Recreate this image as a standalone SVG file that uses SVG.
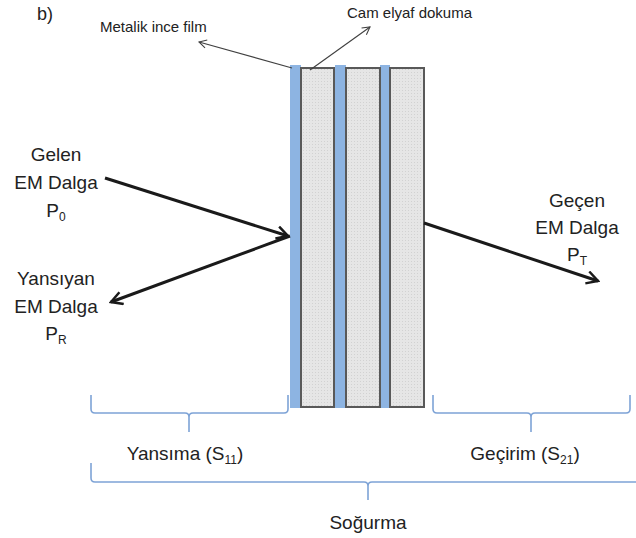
<svg xmlns="http://www.w3.org/2000/svg" width="636" height="538" viewBox="0 0 636 538">
  <style>
    text { font-family: "Liberation Sans", Arial, sans-serif; fill: #222; }
    .big { font-size: 19px; text-anchor: middle; }
    .small { font-size: 15px; }
    .sub { font-size: 12px; }
    .strip { fill: #8db4e2; }
    .box { fill: url(#dots); stroke: #595959; stroke-width: 2; }
    .brace { fill: none; stroke: #7ea3d6; stroke-width: 1.6; }
    .thick { stroke: #1a1a1a; stroke-width: 3; fill: none; marker-end: url(#openBig); }
    .thin { stroke: #404040; stroke-width: 1.1; fill: none; marker-end: url(#openSmall); }
  </style>
  <defs>
    <pattern id="dots" width="3" height="3" patternUnits="userSpaceOnUse">
      <rect width="3" height="3" fill="#e6e6e6"/>
      <rect width="1" height="1" fill="#d2d2d2"/>
    </pattern>
    <marker id="openBig" viewBox="0 0 12 12" refX="10" refY="6" markerWidth="5" markerHeight="5" markerUnits="strokeWidth" orient="auto">
      <path d="M1,1 L10,6 L1,11" fill="none" stroke="#1a1a1a" stroke-width="2"/>
    </marker>
    <marker id="openSmall" viewBox="0 0 12 12" refX="10" refY="6" markerWidth="9" markerHeight="9" markerUnits="strokeWidth" orient="auto">
      <path d="M1,1 L10,6 L1,11" fill="none" stroke="#404040" stroke-width="1.3"/>
    </marker>
  </defs>

  <text x="37" y="20" style="font-size:18px">b)</text>

  <g id="layers">
    <rect class="strip" x="290" y="65" width="11" height="343"/>
    <rect class="strip" x="335" y="65" width="11" height="343"/>
    <rect class="strip" x="380" y="65" width="10" height="343"/>
    <rect class="box" x="301" y="68" width="33" height="339"/>
    <rect class="box" x="346" y="68" width="34" height="339"/>
    <rect class="box" x="390" y="68" width="34" height="339"/>
  </g>

  <g id="connectors">
    <line class="thin" x1="292" y1="68" x2="199" y2="42"/>
    <line class="thin" x1="310" y1="70" x2="370" y2="27"/>
    <line class="thick" x1="105" y1="178" x2="288" y2="236"/>
    <line class="thick" x1="290" y1="236" x2="111" y2="302"/>
    <line class="thick" x1="424" y1="223" x2="598" y2="281"/>
  </g>

  <g id="label-metalik"><text class="small" x="100" y="32">Metalik ince film</text></g>
  <g id="label-cam"><text class="small" x="347" y="18">Cam elyaf dokuma</text></g>

  <g id="incident">
    <text class="big" x="56" y="161">Gelen</text>
    <text class="big" x="56" y="189">EM Dalga</text>
    <text class="big" x="56" y="217">P<tspan class="sub" dy="4">0</tspan></text>
  </g>
  <g id="reflected">
    <text class="big" x="56" y="285">Yansıyan</text>
    <text class="big" x="56" y="313">EM Dalga</text>
    <text class="big" x="56" y="340">P<tspan class="sub" dy="4">R</tspan></text>
  </g>
  <g id="transmitted">
    <text class="big" x="577" y="207">Geçen</text>
    <text class="big" x="577" y="234">EM Dalga</text>
    <text class="big" x="577" y="261">P<tspan class="sub" dy="4">T</tspan></text>
  </g>

  <g id="brace-yansima">
    <path class="brace" d="M91,395 L91,409 Q91,413 95,413 L185,413 Q189,413 189,417 L189,432 M189,417 Q189,413 193,413 L284,413 Q288,413 288,409 L288,395"/>
    <text class="big" x="185" y="460">Yansıma (S<tspan class="sub" dy="4">11</tspan><tspan dy="-4">)</tspan></text>
  </g>
  <g id="brace-gecirim">
    <path class="brace" d="M433,395 L433,409 Q433,413 437,413 L527,413 Q531,413 531,417 L531,432 M531,417 Q531,413 535,413 L626,413 Q630,413 630,409 L630,395"/>
    <text class="big" x="525" y="460">Geçirim (S<tspan class="sub" dy="4">21</tspan><tspan dy="-4">)</tspan></text>
  </g>
  <g id="brace-sogurma">
    <path class="brace" d="M91,463 L91,478 Q91,482 95,482 L364,482 Q368,482 368,486 L368,500 M368,486 Q368,482 372,482 L640,482"/>
    <text class="big" x="368" y="529">Soğurma</text>
  </g>
</svg>
